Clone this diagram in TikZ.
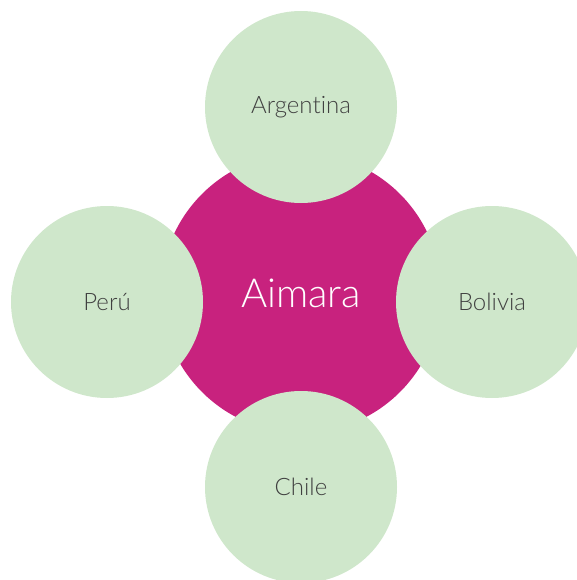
\documentclass[tikz,border=0pt]{standalone}
\usepackage{fontspec}
\setmainfont{Lato}[UprightFont={* Light},Ligatures={NoCommon}]
\definecolor{magentac}{HTML}{C8227E}
\definecolor{greenc}{HTML}{CFE7CB}
\definecolor{textc}{HTML}{404040}
\begin{document}
\begin{tikzpicture}[x=1pt,y=-1pt,
  hub/.style={circle,fill=magentac,minimum size=280pt,inner sep=0pt,text=white,font=\fontsize{40}{44}\selectfont},
  leaf/.style={circle,fill=greenc,minimum size=192pt,inner sep=0pt,text=textc,font=\fontsize{24}{28}\selectfont}]
\useasboundingbox (0,0) rectangle (577,580);
\clip (0,0) rectangle (577,580);
\node[hub] (aimara) at (301,293) {Aimara};
\node[leaf] (arg) at (301,107) {Argentina};
\node[leaf] (peru) at (107,302) {Perú};
\node[leaf] (bol) at (492,302) {Bolivia};
\node[leaf] (chile) at (301,487) {Chile};
\end{tikzpicture}
\end{document}
